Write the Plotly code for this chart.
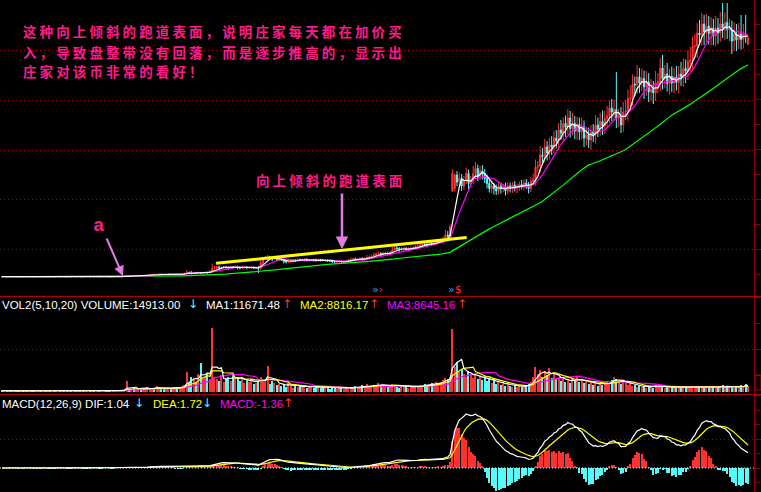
import numpy as np
import pandas as pd
import plotly.graph_objects as go

# ---------------- data ----------------
open_ = [
    3.87,3.86,3.88,3.85,3.87,3.86,3.88,3.86,3.85,3.87,
    3.86,3.87,3.86,3.88,3.86,3.85,3.86,3.87,3.86,3.88,
    3.86,3.86,3.85,3.87,3.86,3.88,3.86,3.87,3.86,3.85,
    3.87,3.86,3.88,3.86,3.87,3.86,3.85,3.86,3.87,3.86,
    3.88,3.86,3.87,3.85,3.86,3.88,3.87,3.86,3.85,3.86,
    3.87,3.88,3.90,3.95,4.00,4.05,4.00,4.02,3.98,4.00,
    4.03,4.00,4.05,4.10,4.20,4.30,4.35,4.30,4.32,4.38,
    4.35,4.30,4.34,4.36,4.30,4.33,4.35,4.32,4.38,4.40,
    4.50,4.70,4.60,4.55,4.70,4.65,4.70,4.60,4.68,4.72,
    4.65,4.90,5.50,5.60,5.80,5.70,5.75,5.80,5.70,5.60,
    5.80,5.75,5.90,5.70,5.60,5.80,5.85,5.70,5.75,5.80,
    5.60,5.70,5.50,6.60,7.40,7.70,7.80,7.50,7.40,7.60,
    7.30,7.40,7.20,6.90,6.80,6.90,7.00,7.20,7.10,7.30,
    7.20,7.20,7.30,7.10,7.20,7.25,7.20,7.10,7.30,7.20,
    7.15,7.20,7.10,7.00,6.90,6.80,6.85,6.90,6.80,6.90,
    7.00,7.10,7.30,7.40,7.30,7.40,7.50,7.30,7.40,7.70,
    7.80,7.90,8.20,8.40,8.50,8.30,8.50,8.60,8.50,8.70,
    9.20,9.60,9.50,9.30,9.40,9.50,9.30,9.40,9.50,9.60,
    9.80,10.0,10.2,10.4,10.3,10.2,10.5,10.4,10.6,10.9,
    11.0,11.0,11.3,12.2,12.0,21.0,21.5,24.2,22.8,23.5,
    22.0,23.0,24.5,22.5,23.0,24.5,25.5,24.0,25.0,24.5,
    23.5,22.5,21.5,22.0,21.5,21.0,22.0,21.5,21.8,21.0,
    22.0,21.5,22.2,21.6,21.8,22.3,22.0,22.6,22.2,21.5,
    22.9,23.3,25.8,26.0,28.2,27.9,29.8,28.6,30.2,29.8,
    31.6,31.0,33.2,32.6,34.5,33.8,35.6,33.5,34.5,33.0,
    34.3,32.8,33.9,31.6,32.2,31.2,32.8,32.3,34.2,33.4,
    34.9,34.0,35.5,36.0,37.6,36.8,37.3,35.6,36.0,34.2,
    36.8,37.0,39.5,39.6,42.3,42.2,43.8,42.6,43.5,41.8,
    42.8,40.8,41.4,40.6,42.6,42.8,45.6,43.5,44.4,42.5,
    43.9,42.6,43.8,42.7,44.4,43.8,45.5,45.0,46.9,47.2,
    49.9,50.0,52.6,52.2,54.4,52.8,54.0,52.5,53.6,52.0,
    53.6,52.6,54.4,53.6,54.7,53.2,53.3,51.0,52.4,51.2,
    52.4,51.3,52.4,50.4,
]
close = [
    3.86,3.88,3.85,3.87,3.86,3.88,3.86,3.85,3.87,3.86,
    3.87,3.86,3.88,3.86,3.85,3.86,3.87,3.86,3.88,3.86,
    3.86,3.85,3.87,3.86,3.88,3.86,3.87,3.86,3.85,3.87,
    3.86,3.88,3.86,3.87,3.86,3.85,3.86,3.87,3.86,3.88,
    3.86,3.87,3.85,3.86,3.88,3.87,3.86,3.85,3.86,3.87,
    3.88,3.90,3.95,4.00,4.05,4.00,4.02,3.98,4.00,4.03,
    4.00,4.05,4.10,4.20,4.30,4.35,4.30,4.32,4.38,4.35,
    4.30,4.34,4.36,4.30,4.33,4.35,4.32,4.38,4.40,4.50,
    4.70,4.60,4.55,4.70,4.65,4.70,4.60,4.68,4.72,4.65,
    4.90,5.50,5.60,5.80,5.70,5.75,5.80,5.70,5.60,5.80,
    5.75,5.90,5.70,5.60,5.80,5.85,5.70,5.75,5.80,5.60,
    5.70,5.50,6.60,7.40,7.70,7.80,7.50,7.40,7.60,7.30,
    7.40,7.20,6.90,6.80,6.90,7.00,7.20,7.10,7.30,7.20,
    7.20,7.30,7.10,7.20,7.25,7.20,7.10,7.30,7.20,7.15,
    7.20,7.10,7.00,6.90,6.80,6.85,6.90,6.80,6.90,7.00,
    7.10,7.30,7.40,7.30,7.40,7.50,7.30,7.40,7.70,7.80,
    7.90,8.20,8.40,8.50,8.30,8.50,8.60,8.50,8.70,9.20,
    9.60,9.50,9.30,9.40,9.50,9.30,9.40,9.50,9.60,9.80,
    10.0,10.2,10.4,10.3,10.2,10.5,10.4,10.6,10.9,11.0,
    11.0,11.3,12.2,12.0,13.8,24.5,24.2,22.8,23.5,22.0,
    23.0,24.5,22.5,23.0,24.5,25.5,24.0,25.0,24.5,23.5,
    22.5,21.5,22.0,21.5,21.0,22.0,21.5,21.8,21.0,22.0,
    21.5,22.2,21.6,21.8,22.3,22.0,22.6,22.2,21.5,22.9,
    23.3,25.8,26.0,28.2,27.9,29.8,28.6,30.2,29.8,31.6,
    31.0,33.2,32.6,34.5,33.8,35.6,33.5,34.5,33.0,34.3,
    32.8,33.9,31.6,32.2,31.2,32.8,32.3,34.2,33.4,34.9,
    34.0,35.5,36.0,37.6,36.8,37.3,35.6,36.0,34.2,36.8,
    37.0,39.5,39.6,42.3,42.2,43.8,42.6,43.5,41.8,42.8,
    40.8,41.4,40.6,42.6,42.8,45.6,43.5,44.4,42.5,43.9,
    42.6,43.8,42.7,44.4,43.8,45.5,45.0,46.9,47.2,49.9,
    50.0,52.6,52.2,54.4,52.8,54.0,52.5,53.6,52.0,53.6,
    52.6,54.4,53.6,54.7,53.2,53.3,51.0,52.4,51.2,52.4,
    51.3,52.4,52.3,51.6,
]
upper_shadow = [
    0.02,0.03,0.02,0.02,0.04,0.02,0.03,0.02,0.02,0.03,
    0.02,0.03,0.02,0.02,0.04,0.02,0.03,0.02,0.02,0.03,
    0.02,0.03,0.02,0.02,0.04,0.02,0.03,0.02,0.02,0.03,
    0.02,0.03,0.02,0.02,0.04,0.02,0.03,0.02,0.02,0.03,
    0.02,0.03,0.02,0.02,0.04,0.02,0.03,0.02,0.02,0.03,
    0.05,0.04,0.06,0.05,0.08,0.05,0.06,0.04,0.05,0.06,
    0.05,0.08,0.06,0.10,0.12,0.08,0.06,0.08,0.10,0.06,
    0.05,0.06,0.08,0.05,0.06,0.08,0.05,0.10,0.12,0.20,
    0.50,0.20,0.40,0.15,0.10,0.20,0.12,0.10,0.15,0.10,
    0.30,1.00,0.40,0.20,0.30,0.20,0.30,0.20,0.20,0.30,
    0.20,0.25,0.15,0.20,0.30,0.20,0.15,0.20,0.25,0.15,
    0.20,0.30,0.50,0.40,0.30,0.40,0.20,0.30,0.20,0.30,
    0.20,0.30,0.20,0.15,0.20,0.30,0.25,0.20,0.30,0.20,
    0.20,0.25,0.30,0.20,0.15,0.20,0.30,0.20,0.15,0.20,
    0.20,0.15,0.20,0.25,0.20,0.15,0.30,0.20,0.25,0.20,
    0.30,0.40,0.25,0.30,0.20,0.30,0.25,0.40,0.50,0.30,
    0.40,0.50,0.30,0.40,0.30,0.40,0.30,0.25,0.40,0.60,
    0.70,0.40,0.30,0.35,0.40,0.30,0.35,0.40,0.30,0.40,
    0.40,0.35,0.50,0.30,0.40,0.50,0.30,0.40,0.50,0.40,
    0.50,0.60,1.00,0.80,0.50,0.90,0.30,0.80,1.20,0.90,
    1.00,1.20,0.80,1.00,1.50,1.30,0.80,1.00,1.20,0.90,
    0.80,0.70,1.00,0.60,0.80,0.90,0.70,0.60,0.90,0.80,
    0.70,0.60,0.80,0.70,0.60,0.90,0.70,0.80,0.60,0.90,
    1.20,1.50,1.00,1.80,1.40,1.60,1.20,1.50,1.80,1.40,
    1.60,1.40,2.00,1.20,1.60,1.80,1.40,2.20,1.50,1.60,
    1.40,1.80,1.20,1.60,1.50,1.40,1.60,2.00,1.50,1.80,
    2.20,1.60,2.00,1.50,1.80,2.00,7.50,1.50,1.80,2.00,
    2.20,1.80,2.50,2.00,1.60,2.40,1.80,2.00,1.60,2.20,
    1.80,2.00,1.60,2.40,1.80,2.00,2.60,1.80,2.20,1.60,
    2.00,1.80,2.20,1.60,2.40,2.00,1.80,2.20,2.60,2.00,
    2.40,2.00,2.60,2.20,1.80,2.40,2.00,2.20,1.80,2.40,
    2.00,2.40,4.20,2.00,3.90,2.20,1.80,2.40,2.00,2.20,
    3.80,2.00,3.80,0.40,
]
lower_shadow = [
    0.02,0.02,0.03,0.02,0.02,0.02,0.03,0.02,0.04,0.02,
    0.02,0.02,0.03,0.02,0.02,0.02,0.03,0.02,0.04,0.02,
    0.02,0.02,0.03,0.02,0.02,0.02,0.03,0.02,0.04,0.02,
    0.02,0.02,0.03,0.02,0.02,0.02,0.03,0.02,0.04,0.02,
    0.02,0.02,0.03,0.02,0.02,0.02,0.03,0.02,0.04,0.02,
    0.04,0.05,0.04,0.06,0.05,0.04,0.06,0.05,0.04,0.05,
    0.06,0.05,0.04,0.06,0.08,0.06,0.10,0.06,0.05,0.08,
    0.08,0.06,0.05,0.08,0.06,0.05,0.08,0.06,0.05,0.06,
    0.10,0.15,0.20,0.10,0.15,0.10,0.20,0.10,0.12,0.15,
    0.10,0.20,0.20,0.30,0.50,0.40,0.30,0.50,0.40,0.20,
    0.30,0.20,0.40,0.30,0.20,0.30,0.40,0.20,0.30,0.20,
    0.30,0.90,0.20,0.30,0.20,0.40,0.30,0.40,0.20,0.30,
    0.30,0.20,0.40,0.30,0.20,0.30,0.20,0.30,0.20,0.25,
    0.20,0.30,0.20,0.25,0.20,0.30,0.25,0.20,0.30,0.20,
    0.25,0.30,0.20,0.30,0.40,0.20,0.25,0.30,0.20,0.25,
    0.30,0.20,0.30,0.25,0.30,0.20,0.30,0.25,0.20,0.30,
    0.30,0.25,0.30,0.40,0.30,0.25,0.30,0.40,0.30,0.25,
    0.30,0.40,0.50,0.30,0.40,0.30,0.40,0.30,0.40,0.30,
    0.30,0.40,0.30,0.40,0.50,0.30,0.40,0.30,0.40,0.50,
    0.40,0.50,0.40,0.50,0.60,0.20,0.50,0.80,0.60,1.00,
    0.80,0.60,1.20,0.80,0.60,0.90,1.00,0.80,1.20,0.90,
    1.00,0.80,0.90,1.20,0.80,0.70,1.00,0.80,0.90,0.70,
    0.80,0.90,0.70,1.00,0.80,0.70,0.90,0.80,1.00,0.70,
    0.80,1.20,1.00,1.40,1.60,1.20,1.50,1.30,1.60,1.40,
    1.50,1.80,1.40,1.60,2.00,1.50,1.80,1.40,1.60,1.80,
    1.60,1.40,1.80,1.50,1.60,2.00,1.50,1.80,1.60,1.40,
    1.80,1.60,2.00,1.40,1.80,1.60,2.00,1.80,1.60,1.40,
    1.60,2.00,1.80,1.60,2.20,1.80,2.00,1.60,2.40,1.80,
    2.00,1.80,2.20,1.60,2.00,1.80,2.20,2.00,1.60,2.20,
    1.80,2.00,1.60,2.20,1.80,2.00,2.40,1.80,2.00,2.20,
    2.00,2.40,1.80,2.20,2.60,2.00,2.20,2.40,1.80,2.00,
    2.20,1.80,2.00,2.40,1.80,2.20,2.60,2.00,2.20,1.80,
    2.00,1.80,1.70,0.20,
]
volume = [
    2000,1500,2500,1800,1200,2200,1600,2400,1400,2000,
    1800,2600,1500,2000,1300,2300,1700,2100,1500,2400,
    1600,2000,2800,1400,1900,2200,1500,2500,1800,1600,
    2100,1400,2300,1700,2600,1500,2000,1800,2400,1300,
    2200,1700,2500,1500,2000,2700,1600,2100,1800,2300,
    2500,3000,3500,4000,21000,6000,4500,8000,5000,6500,
    4000,7000,5000,9000,6000,8000,5000,12000,7000,6000,
    8000,5000,9000,6000,7000,10000,6000,8000,12000,14000,
    40000,18000,30000,25000,20000,35000,58000,28000,30000,36000,
    26000,127000,30000,26000,22000,34000,20000,26000,30000,22000,
    34000,26000,30000,22000,28000,18000,24000,20000,26000,16000,
    18000,22000,30000,24000,20000,52000,16000,22000,18000,14000,
    16000,12000,14000,10000,18000,12000,8000,14000,10000,12000,
    9000,11000,8000,10000,12000,7000,9000,11000,8000,10000,
    7000,9000,6000,10000,8000,6000,9000,7000,5000,8000,
    6000,9000,7000,12000,10000,8000,14000,11000,16000,12000,
    10000,14000,12000,18000,14000,10000,12000,9000,11000,16000,
    14000,10000,8000,12000,9000,11000,8000,10000,12000,9000,
    11000,14000,10000,16000,12000,14000,18000,12000,20000,16000,
    20000,24000,28000,26000,30000,126000,50000,60000,40000,46000,
    36000,30000,42000,34000,28000,36000,26000,32000,24000,30000,
    22000,26000,18000,24000,16000,20000,14000,18000,12000,16000,
    12000,10000,14000,9000,12000,10000,14000,11000,16000,20000,
    30000,50000,36000,44000,30000,40000,34000,48000,28000,36000,
    26000,30000,22000,28000,20000,24000,18000,26000,22000,30000,
    20000,24000,18000,22000,16000,20000,14000,18000,12000,16000,
    14000,18000,20000,16000,24000,30000,26000,20000,16000,22000,
    18000,14000,16000,12000,14000,10000,12000,9000,11000,8000,
    10000,12000,8000,14000,10000,9000,12000,8000,10000,7000,
    9000,11000,8000,10000,7000,12000,9000,8000,10000,11000,
    8000,12000,9000,10000,8000,11000,7000,9000,12000,8000,
    10000,9000,14000,8000,12000,9000,10000,8000,11000,9000,
    14000,10000,16000,12000,
]

legend_vol = ["VOL2(5,10,20) VOLUME:14913.00", "MA1:11671.48", "MA2:8816.17", "MA3:8645.16"]
legend_macd = ["MACD(12,26,9) DIF:1.04", "DEA:1.72", "MACD:-1.36"]
note_top = ["这种向上倾斜的跑道表面，说明庄家每天都在加价买",
            "入，导致盘整带没有回落，而是逐步推高的，显示出",
            "庄家对该币非常的看好！"]
note_mid = "向上倾斜的跑道表面"
note_a = "a"
trend_line = dict(x0=92.7, y0=6.54, x1=201.2, y1=11.7)   # hand-drawn yellow line (chart coords)

# ---------------- derived ----------------
n = min(len(open_), len(close), len(upper_shadow), len(lower_shadow), len(volume))
o = np.array(open_[:n]); c = np.array(close[:n])
high = np.maximum(o, c) + np.array(upper_shadow[:n])
low = np.minimum(o, c) - np.array(lower_shadow[:n])
vol = np.array(volume[:n], dtype=float)
x = np.arange(n)

cs = pd.Series(c)
ma5 = cs.rolling(5, min_periods=1).mean()
ma10 = cs.rolling(10, min_periods=1).mean()
ma60 = cs.rolling(60, min_periods=1).mean()
vs = pd.Series(vol)
vma5 = vs.rolling(5, min_periods=1).mean()
vma10 = vs.rolling(10, min_periods=1).mean()
vma20 = vs.rolling(20, min_periods=1).mean()
ema12 = cs.ewm(span=12, adjust=False).mean()
ema26 = cs.ewm(span=26, adjust=False).mean()
dif = ema12 - ema26
dea = dif.ewm(span=9, adjust=False).mean()
macd = 2 * (dif - dea)

UP = '#ff3232'
DN = '#54fcfc'
W, H = 761, 492
PW = 754  # plot area width

up_mask = c >= o
vcol = [UP if u else DN for u in up_mask]
mcol = [UP if m >= 0 else DN for m in macd]

fig = go.Figure()
fig.add_trace(go.Candlestick(x=x, open=o, high=high, low=low, close=c,
                             increasing=dict(line=dict(color=UP, width=1), fillcolor=UP),
                             decreasing=dict(line=dict(color=DN, width=1), fillcolor=DN),
                             whiskerwidth=0, xaxis='x', yaxis='y', showlegend=False))
fig.add_trace(go.Scatter(x=x, y=ma60, mode='lines', line=dict(color='#00ff00', width=1.2), yaxis='y', showlegend=False))
fig.add_trace(go.Scatter(x=x, y=ma10, mode='lines', line=dict(color='#ff00ff', width=1.2), yaxis='y', showlegend=False))
fig.add_trace(go.Scatter(x=x, y=ma5, mode='lines', line=dict(color='#ffffff', width=1.2), yaxis='y', showlegend=False))

fig.add_trace(go.Bar(x=x, y=vol, marker=dict(color=vcol, line=dict(width=0)), width=0.5, yaxis='y2', showlegend=False))
fig.add_trace(go.Scatter(x=x, y=vma20, mode='lines', line=dict(color='#ff00ff', width=1.2), yaxis='y2', showlegend=False))
fig.add_trace(go.Scatter(x=x, y=vma10, mode='lines', line=dict(color='#ffff00', width=1.2), yaxis='y2', showlegend=False))
fig.add_trace(go.Scatter(x=x, y=vma5, mode='lines', line=dict(color='#ffffff', width=1.2), yaxis='y2', showlegend=False))

fig.add_trace(go.Bar(x=x, y=macd, marker=dict(color=mcol, line=dict(width=0)), width=0.45, yaxis='y3', showlegend=False))
fig.add_trace(go.Scatter(x=x, y=dea, mode='lines', line=dict(color='#ffff00', width=1.2), yaxis='y3', showlegend=False))
fig.add_trace(go.Scatter(x=x, y=dif, mode='lines', line=dict(color='#ffffff', width=1.2), yaxis='y3', showlegend=False))

# ---------------- axes ----------------
spp = 746 / (n - 1)            # pixels per bar
r0 = -2 / spp
xr = [r0, r0 + PW / spp]

def ypx(py):                   # paper y from pixel row
    return 1 - py / H

AXC = '#8a0000'
main_range = [0, 296 / 5.0]
vol_range = [-2.3 * 2000, (391.7 - 296) * 2000]
pxu = 54.0 / float(dif.max())
macd_range = [-(492 - 468) / pxu, (468 - 394) / pxu]

common_y = dict(side='right', showline=True, linecolor=AXC, linewidth=1, ticks='outside',
                ticklen=6, tickcolor=AXC, showticklabels=False, zeroline=False, anchor='x', showgrid=False)

fig.update_layout(
    width=W, height=H, margin=dict(l=0, r=W - PW, t=0, b=0, pad=0),
    paper_bgcolor='#000000', plot_bgcolor='#000000', showlegend=False,
    bargap=0,
    xaxis=dict(range=xr, showgrid=False, zeroline=False, showticklabels=False, showline=False,
               ticks='', rangeslider=dict(visible=False), fixedrange=True),
    yaxis=dict(domain=[ypx(296), 1], range=main_range, tick0=9.4, dtick=10,
               minor=dict(tick0=9.4, dtick=5, ticks='outside', ticklen=5, tickcolor=AXC, showgrid=False),
               **common_y),
    yaxis2=dict(domain=[ypx(394), ypx(296)], range=vol_range, tickvals=[(391.7 - 349) * 2000],
                minor=dict(tick0=(391.7 - 349) * 2000, dtick=26 * 2000, ticks='outside',
                           ticklen=5, tickcolor=AXC, showgrid=False),
                **common_y),
    yaxis3=dict(domain=[0, ypx(394)], range=macd_range, tickvals=[29 / pxu],
                minor=dict(tick0=0, dtick=14.5 / pxu, ticks='outside', ticklen=5, tickcolor=AXC, showgrid=False),
                **common_y),
)

shapes = []
# dotted grid rows (pixel rows of the reference layout), drawn crisp on pixel centres
for py in (50, 100, 150, 199, 249, 349, 439):
    shapes.append(dict(type='line', xref='paper', yref='paper', x0=0, x1=1,
                       y0=ypx(py + 0.5), y1=ypx(py + 0.5), layer='below',
                       line=dict(color='#a00000', width=1, dash='1px,3px')))
for py in (296, 394):
    shapes.append(dict(type='line', xref='paper', yref='paper', x0=0, x1=W / PW, y0=ypx(py + 0.5), y1=ypx(py + 0.5),
                       line=dict(color='#b00000', width=1)))
shapes.append(dict(type='line', xref='paper', yref='y3', x0=0, x1=1, y0=0, y1=0,
                   line=dict(color='#ffffff', width=1, dash='1px,2px')))
shapes.append(dict(type='line', xref='x', yref='y', line=dict(color='#ffff00', width=3), **trend_line))
shapes.append(dict(type='rect', xref='paper', yref='paper', x0=755 / PW, x1=761 / PW, y0=ypx(390), y1=ypx(375),
                   line=dict(color='#b00000', width=1)))
fig.update_layout(shapes=shapes)

ann = []
PINK = '#ff1a8c'
CJK = 'Noto Sans CJK SC'
def cjk(txt):
    return '<span style="letter-spacing:3.1px">' + txt + '</span>'

for txt, py in zip(note_top, (31.5, 51.5, 71.5)):
    ann.append(dict(xref='paper', yref='paper', x=21 / PW, y=ypx(py), xanchor='left', yanchor='middle',
                    text=cjk(txt), showarrow=False,
                    font=dict(family=CJK, size=13.5, color=PINK, weight='bold')))
ann.append(dict(xref='paper', yref='paper', x=254 / PW, y=ypx(180), xanchor='left', yanchor='middle',
                text=cjk(note_mid), showarrow=False, font=dict(family=CJK, size=13.5, color=PINK, weight='bold')))
ann.append(dict(xref='paper', yref='paper', x=98 / PW, y=ypx(226), xanchor='center', yanchor='middle',
                text=note_a, showarrow=False, font=dict(family='Liberation Mono', size=19, color=PINK, weight='bold')))
ARROW = '#e47ae4'
ann.append(dict(xref='paper', yref='paper', x=123 / PW, y=ypx(276), ax=-17, ay=-39, text='', showarrow=True,
                arrowhead=2, arrowsize=1, arrowwidth=2, arrowcolor=ARROW))
ann.append(dict(xref='paper', yref='paper', x=342 / PW, y=ypx(249), ax=0, ay=-57, text='', showarrow=True,
                arrowhead=2, arrowsize=1, arrowwidth=2.5, arrowcolor=ARROW))

LF = 'Liberation Sans'
def leg(txt, px, py, color, size=11.5, family=LF, anchor='left'):
    ann.append(dict(xref='paper', yref='paper', x=px / PW, y=ypx(py), xanchor=anchor, yanchor='middle',
                    text=txt, showarrow=False, font=dict(family=family, size=size, color=color)))

AF = 'DejaVu Sans'
leg(legend_vol[0], 0, 304.5, '#ffffff')
leg('↓', 193, 303.5, DN, 12, AF, 'center')
leg(legend_vol[1], 204, 304.5, '#ffffff')
leg('↑', 287, 303.5, UP, 12, AF, 'center')
leg(legend_vol[2], 298, 304.5, '#ffff00')
leg('↑', 374, 303.5, UP, 12, AF, 'center')
leg(legend_vol[3], 385, 304.5, '#ff00ff')
leg('↑', 462, 303.5, UP, 12, AF, 'center')

leg(legend_macd[0], 0, 403.5, '#ffffff')
leg('↓', 139, 402.5, DN, 12, AF, 'center')
leg(legend_macd[1], 151, 403.5, '#ffff00')
leg('↓', 207, 402.5, DN, 12, AF, 'center')
leg(legend_macd[2], 218, 403.5, '#ff00ff')
leg('↑', 288, 402.5, UP, 12, AF, 'center')

leg('<span style="color:#3399ff">»</span><span style="color:#ff3030">›</span>', 370, 289, '#ffffff', 11, AF)
leg('<span style="color:#3399ff">»</span><span style="color:#ff3030">$</span>', 446, 289, '#ffffff', 11, AF)

fig.update_layout(annotations=ann)
fig.write_html("out.html", config=dict(displayModeBar=False),
               post_script="document.body.style.margin='0';document.body.style.padding='0';"
                           "document.body.style.overflow='hidden';document.body.style.background='#000';")
